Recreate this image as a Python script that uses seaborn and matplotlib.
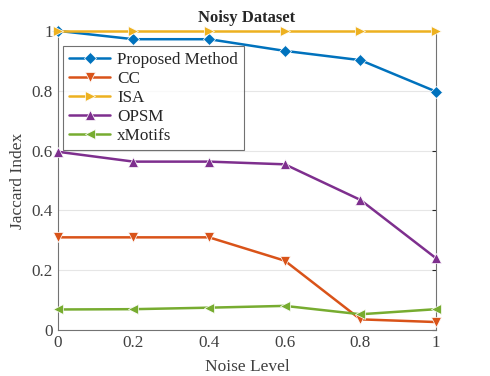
import pandas as pd
import numpy as np
import matplotlib
matplotlib.use('Agg')
import matplotlib.pyplot as plt
import seaborn as sns

# ---- data ----
noise_levels = [0, 0.2, 0.4, 0.6, 0.8, 1.0]
proposed = [1.0, 0.972, 0.972, 0.933, 0.902, 0.797]
cc = [0.31, 0.31, 0.31, 0.232, 0.036, 0.027]
isa = [1.0, 1.0, 1.0, 1.0, 1.0, 1.0]
opsm = [0.596, 0.563, 0.563, 0.554, 0.435, 0.24]
xmotifs = [0.069, 0.07, 0.075, 0.081, 0.053, 0.07]

method_names = ['Proposed Method', 'CC', 'ISA', 'OPSM', 'xMotifs']
series = [proposed, cc, isa, opsm, xmotifs]
y_ticks = [0, 0.2, 0.4, 0.6, 0.8, 1]
y_tick_labels = ['0', '0.2', '0.4', '0.6', '0.8', '1']
x_tick_labels = ['0', '0.2', '0.4', '0.6', '0.8', '1']

# MATLAB default colours
palette = {
    'Proposed Method': (0.0, 0.447, 0.741),
    'CC': (0.85, 0.325, 0.098),
    'ISA': (0.929, 0.694, 0.125),
    'OPSM': (0.494, 0.184, 0.556),
    'xMotifs': (0.466, 0.674, 0.188),
}
markers = {'Proposed Method': 'D', 'CC': 'v', 'ISA': '>', 'OPSM': '^', 'xMotifs': '<'}

rows = []
for name, vals in zip(method_names, series):
    for x, v in zip(noise_levels, vals):
        rows.append({'Noise Level': x, 'Jaccard Index': v, 'Method': name})
df = pd.DataFrame(rows)

sns.set_style('white')
plt.rcParams['font.family'] = ['Liberation Serif', 'DejaVu Serif']

fig = plt.figure(figsize=(4.9, 3.76), dpi=100)
ax = fig.add_axes([0.118, 0.122, 0.772, 0.796])

sns.lineplot(data=df, x='Noise Level', y='Jaccard Index', hue='Method', style='Method',
             markers=markers, dashes=False, palette=palette, hue_order=method_names,
             style_order=method_names, linewidth=1.8, markersize=6.5, markeredgewidth=0.5,
             ax=ax, clip_on=False, zorder=3)

ax.set_xlim(0, 1)
ax.set_ylim(0, 1)
ax.set_xticks(noise_levels)
ax.set_xticklabels(x_tick_labels)
ax.set_yticks(y_ticks)
ax.set_yticklabels(y_tick_labels)
ax.tick_params(direction='in', length=3, labelsize=12.3, colors='0.15', right=True,
               labelcolor='0.25')
ax.grid(axis='y', color='0.9', linewidth=0.8)
ax.set_axisbelow(True)
for side in ['left', 'bottom', 'right']:
    ax.spines[side].set_color('0.45')
    ax.spines[side].set_linewidth(0.8)
ax.spines['top'].set_visible(False)

ax.set_xlabel('Noise Level', fontsize=12.5, color='0.25', labelpad=6)
ax.set_ylabel('Jaccard Index', fontsize=12.5, color='0.25', labelpad=4)
ax.set_title('Noisy Dataset', fontsize=12, fontweight='bold', pad=6)

leg = ax.legend(loc='upper left', bbox_to_anchor=(0.015, 0.95), fontsize=12.3,
                frameon=True, fancybox=False, borderpad=0.35, labelspacing=0.18,
                handlelength=2.4, handletextpad=0.4, borderaxespad=0)
leg.get_frame().set_edgecolor('0.3')
leg.get_frame().set_linewidth(0.8)

plt.savefig('out.png', dpi=100)
